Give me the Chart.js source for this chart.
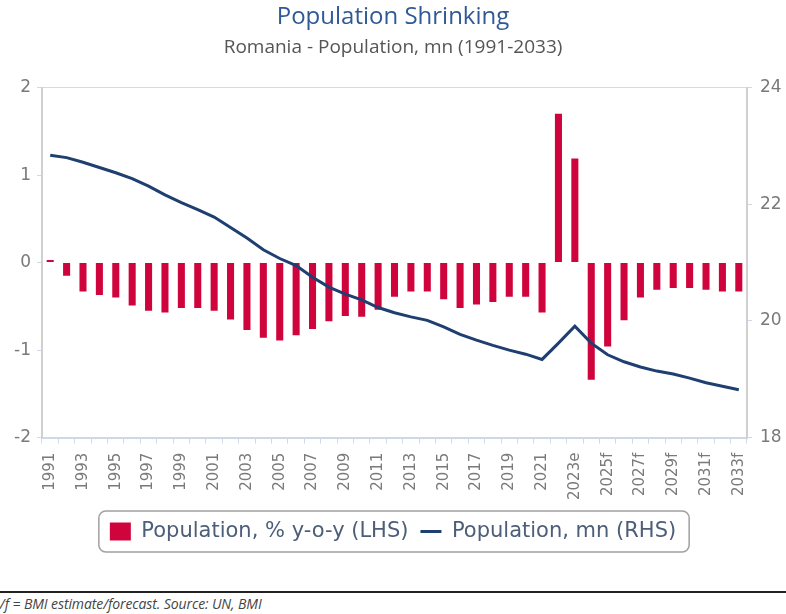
<!DOCTYPE html>
<html>
<head>
<meta charset="utf-8">
<script src="https://cdn.jsdelivr.net/npm/chart.js@4.4.1/dist/chart.umd.min.js"></script>
<style>
  html, body { margin: 0; padding: 0; background: #fff; }
  body { width: 786px; height: 614px; overflow: hidden; position: relative; }
  #wrap { position: absolute; left: 0; top: 0; width: 786px; height: 590px; }
  #foot {
    position: absolute; left: 0; top: 591px; width: 786px;
    border-top: 2px solid #222;
  }
  #foot span {
    display: block; margin-left: -7px; margin-top: 1px;
    font: italic 14px "Open Sans", sans-serif; color: #444; letter-spacing: -0.1px;
  }
</style>
</head>
<body>
<div id="wrap"><canvas id="chart"></canvas></div>
<div id="foot"><span>e/f = BMI estimate/forecast. Source: UN, BMI</span></div>
<script>
// categories
const years = [
  '1991', '1992', '1993', '1994', '1995', '1996', '1997', '1998', '1999', '2000',
  '2001', '2002', '2003', '2004', '2005', '2006', '2007', '2008', '2009', '2010',
  '2011', '2012', '2013', '2014', '2015', '2016', '2017', '2018', '2019', '2020',
  '2021', '2022', '2023e', '2024f', '2025f', '2026f', '2027f', '2028f', '2029f', '2030f',
  '2031f', '2032f', '2033f'
];

// Population, % y-o-y (LHS)
const popGrowth = [
  0.03, -0.15, -0.33, -0.37, -0.40, -0.49, -0.55, -0.57, -0.52, -0.52,
  -0.55, -0.65, -0.77, -0.86, -0.89, -0.83, -0.76, -0.67, -0.61, -0.62,
  -0.54, -0.39, -0.33, -0.33, -0.42, -0.52, -0.48, -0.45, -0.39, -0.39,
  -0.57, 1.70, 1.19, -1.34, -0.96, -0.66, -0.40, -0.31, -0.29, -0.29,
  -0.31, -0.33, -0.33
];

// Population, mn (RHS)
const popMn = [
  22.84, 22.80, 22.72, 22.63, 22.54, 22.44, 22.31, 22.16, 22.03, 21.91,
  21.78, 21.60, 21.42, 21.22, 21.07, 20.95, 20.75, 20.58, 20.46, 20.36,
  20.23, 20.14, 20.07, 20.01, 19.90, 19.77, 19.67, 19.58, 19.50, 19.43,
  19.34, 19.62, 19.91, 19.62, 19.42, 19.30, 19.21, 19.14, 19.09, 19.02,
  18.94, 18.88, 18.82
];

const leftTicks = [-2, -1, 0, 1, 2];
const rightTicks = [18, 20, 22, 24];

const RED = '#d0043c';
const NAVY = '#1e3f6f';
const AXIS = '#cdd9e6';
const TICKTXT = '#7a7a7a';

// rounded frame around the legend
const legendFrame = {
  id: 'legendFrame',
  afterDraw(chart) {
    const boxes = chart.legend && chart.legend.legendHitBoxes;
    if (!boxes || !boxes.length) return;
    let x0 = Infinity, x1 = -Infinity, y0 = Infinity, y1 = -Infinity;
    boxes.forEach(b => {
      x0 = Math.min(x0, b.left); x1 = Math.max(x1, b.left + b.width);
      y0 = Math.min(y0, b.top); y1 = Math.max(y1, b.top + b.height);
    });
    const ctx = chart.ctx;
    ctx.save();
    ctx.strokeStyle = '#a0a0a0';
    ctx.lineWidth = 1.5;
    ctx.beginPath();
    ctx.roundRect(x0 - 11, y0 - 10, x1 - x0 + 24, y1 - y0 + 20, 7);
    ctx.stroke();
    ctx.restore();
  }
};

new Chart(document.getElementById('chart'), {
  type: 'bar',
  data: {
    labels: years,
    datasets: [{
      type: 'bar',
      label: 'Population, % y-o-y (LHS)',
      data: popGrowth,
      backgroundColor: RED,
      borderWidth: 0,
      barPercentage: 0.43,
      categoryPercentage: 1,
      yAxisID: 'y',
      pointStyle: 'rect',
      order: 1
    }, {
      type: 'line',
      label: 'Population, mn (RHS)',
      data: popMn,
      borderColor: NAVY,
      backgroundColor: NAVY,
      borderWidth: 3,
      pointRadius: 0,
      tension: 0,
      yAxisID: 'y1',
      pointStyle: 'line',
      order: 0
    }]
  },
  options: {
    responsive: true,
    maintainAspectRatio: false,
    animation: false,
    layout: { padding: { left: 0, right: 0, top: 0, bottom: 38 } },
    plugins: {
      title: {
        display: true,
        text: 'Population Shrinking',
        color: '#2f5a96',
        font: { family: '"Open Sans", sans-serif', size: 24, weight: 'normal' },
        padding: { top: 3, bottom: 4 }
      },
      subtitle: {
        display: true,
        text: 'Romania - Population, mn (1991-2033)',
        color: '#555',
        font: { family: '"Open Sans", sans-serif', size: 19 },
        padding: { top: 0, bottom: 29 }
      },
      legend: {
        position: 'bottom',
        labels: {
          usePointStyle: true,
          pointStyleWidth: 21,
          boxHeight: 18,
          color: '#4d5e78',
          padding: 12,
          font: { family: '"DejaVu Sans", sans-serif', size: 21 },
          sort: (a, b) => a.datasetIndex - b.datasetIndex
        }
      },
      tooltip: { enabled: false }
    },
    scales: {
      x: {
        grid: {
          display: true, drawOnChartArea: false, drawTicks: true,
          tickLength: 6, tickColor: AXIS, offset: true
        },
        border: { color: AXIS, width: 2 },
        ticks: {
          autoSkip: false, maxRotation: 90, minRotation: 90, padding: 9,
          color: TICKTXT,
          font: { family: '"DejaVu Sans", sans-serif', size: 15 },
          callback: function (v, i) { return i % 2 === 0 ? this.getLabelForValue(v) : ''; }
        }
      },
      y: {
        position: 'left',
        min: -2, max: 2,
        afterBuildTicks: s => { s.ticks = leftTicks.map(v => ({ value: v })); },
        afterFit: s => { s.width = 42; },
        grid: {
          drawTicks: true, tickLength: 5, tickColor: AXIS,
          color: c => (c.tick && c.tick.value === 2 ? '#d3dae2' : 'rgba(0,0,0,0)')
        },
        border: { color: '#d0d0d0', width: 2 },
        ticks: {
          color: TICKTXT, padding: 6,
          font: { family: '"DejaVu Sans", sans-serif', size: 17 }
        }
      },
      y1: {
        position: 'right',
        min: 18, max: 24,
        afterBuildTicks: s => { s.ticks = rightTicks.map(v => ({ value: v })); },
        afterFit: s => { s.width = 39; },
        grid: { drawOnChartArea: false, drawTicks: true, tickLength: 5, tickColor: AXIS },
        border: { color: '#d0d0d0', width: 2 },
        ticks: {
          color: TICKTXT, padding: 8,
          font: { family: '"DejaVu Sans", sans-serif', size: 17 }
        }
      }
    }
  },
  plugins: [legendFrame]
});
</script>
</body>
</html>
